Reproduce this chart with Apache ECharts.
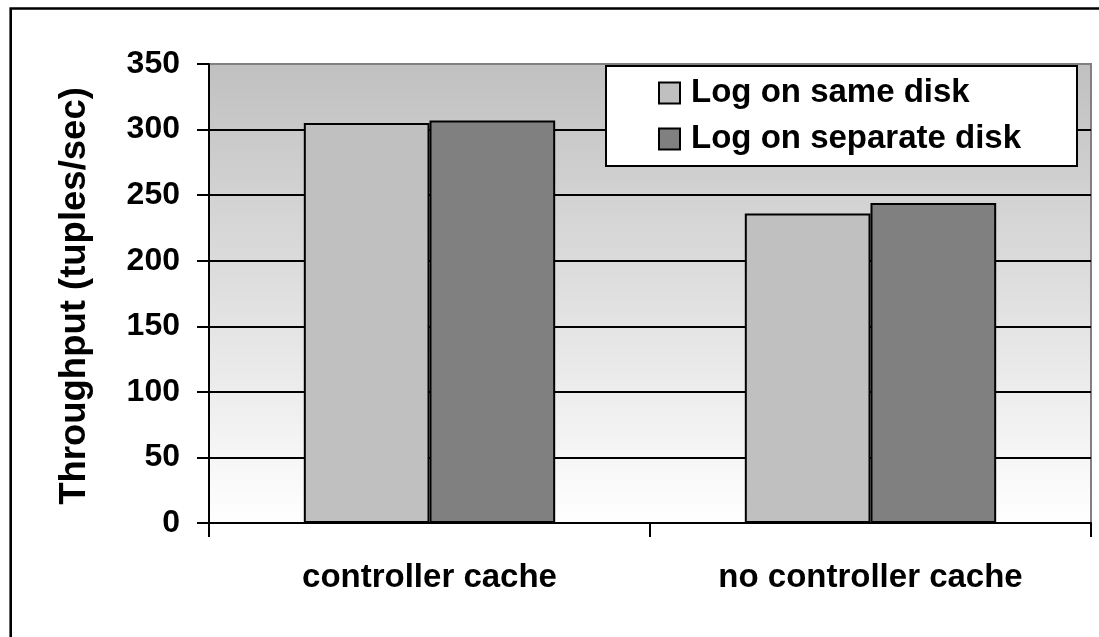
<!DOCTYPE html>
<html>
<head>
<meta charset="utf-8">
<script src="https://cdn.jsdelivr.net/npm/echarts@6/dist/echarts.min.js"></script>
<style>
  html, body { margin: 0; padding: 0; background: #ffffff; }
  #chart { width: 1099px; height: 637px; }
</style>
</head>
<body>
<div id="chart"></div>
<script>
// Throughput by disk-cache configuration
const categories = ['controller cache', 'no controller cache'];
const seriesNames = ['Log on same disk', 'Log on separate disk'];
const sameDisk = [305, 236];
const separateDisk = [307, 244];
const yTicks = { min: 0, max: 350, interval: 50 };

const FONT = '"Liberation Sans", Arial, Helvetica, sans-serif';

const chart = echarts.init(document.getElementById('chart'), null, { renderer: 'canvas' });

chart.setOption({
  animation: false,
  backgroundColor: '#ffffff',
  grid: {
    left: 209, right: 8, top: 64, bottom: 114,
    show: true,
    borderColor: '#808080',
    borderWidth: 2,
    backgroundColor: {
      type: 'linear', x: 0, y: 0, x2: 0, y2: 1,
      colorStops: [
        { offset: 0, color: '#c0c0c0' },
        { offset: 1, color: '#ffffff' }
      ]
    }
  },
  legend: {
    orient: 'vertical',
    left: 658,
    top: 73,
    itemWidth: 21,
    itemHeight: 21,
    itemGap: 6,
    icon: 'rect',
    padding: 0,
    textStyle: {
      fontFamily: FONT, fontWeight: 'bold', fontSize: 33, color: '#000',
      lineHeight: 40, padding: [0, 0, 0, 6]
    },
    data: seriesNames
  },
  xAxis: {
    type: 'category',
    data: categories,
    axisLine: { lineStyle: { color: '#000', width: 2 } },
    axisTick: { show: true, length: 14, lineStyle: { color: '#000', width: 2 } },
    axisLabel: {
      margin: 38,
      fontFamily: FONT, fontWeight: 'bold', fontSize: 33, color: '#000'
    },
    splitLine: { show: false }
  },
  yAxis: {
    type: 'value',
    min: yTicks.min, max: yTicks.max, interval: yTicks.interval,
    axisLine: { show: true, lineStyle: { color: '#000', width: 2 } },
    axisTick: { show: true, length: 12, lineStyle: { color: '#000', width: 2 } },
    axisLabel: {
      margin: 29,
      fontFamily: FONT, fontWeight: 'bold', fontSize: 32, color: '#000'
    },
    splitLine: {
      show: true,
      lineStyle: {
        width: 2,
        color: ['#000', '#000', '#000', '#000', '#000', '#000', '#000', '#808080']
      }
    }
  },
  graphic: [
    {
      // outer frame of the figure
      type: 'rect', z: 100, silent: true,
      shape: { x: 10.7, y: 8.5, width: 1200, height: 800 },
      style: { fill: null, stroke: '#000', lineWidth: 2.6 }
    },
    {
      // legend box
      type: 'rect', z: 3, silent: true,
      shape: { x: 606, y: 66, width: 471, height: 100 },
      style: { fill: '#ffffff', stroke: '#000', lineWidth: 2 }
    },
    {
      type: 'text', z: 5, silent: true,
      x: 75, y: 296, rotation: Math.PI / 2,
      style: {
        text: 'Throughput (tuples/sec)',
        fontFamily: FONT, fontWeight: 'bold', fontSize: 36.5, fill: '#000',
        align: 'center', verticalAlign: 'middle'
      }
    }
  ],
  series: [
    {
      name: seriesNames[0],
      type: 'bar',
      data: sameDisk,
      barGap: '0%',
      barCategoryGap: '43%',
      itemStyle: { color: '#c0c0c0', borderColor: '#000', borderWidth: 2 }
    },
    {
      name: seriesNames[1],
      type: 'bar',
      data: separateDisk,
      barGap: '0%',
      barCategoryGap: '43%',
      itemStyle: { color: '#808080', borderColor: '#000', borderWidth: 2 }
    }
  ]
});
</script>
</body>
</html>
